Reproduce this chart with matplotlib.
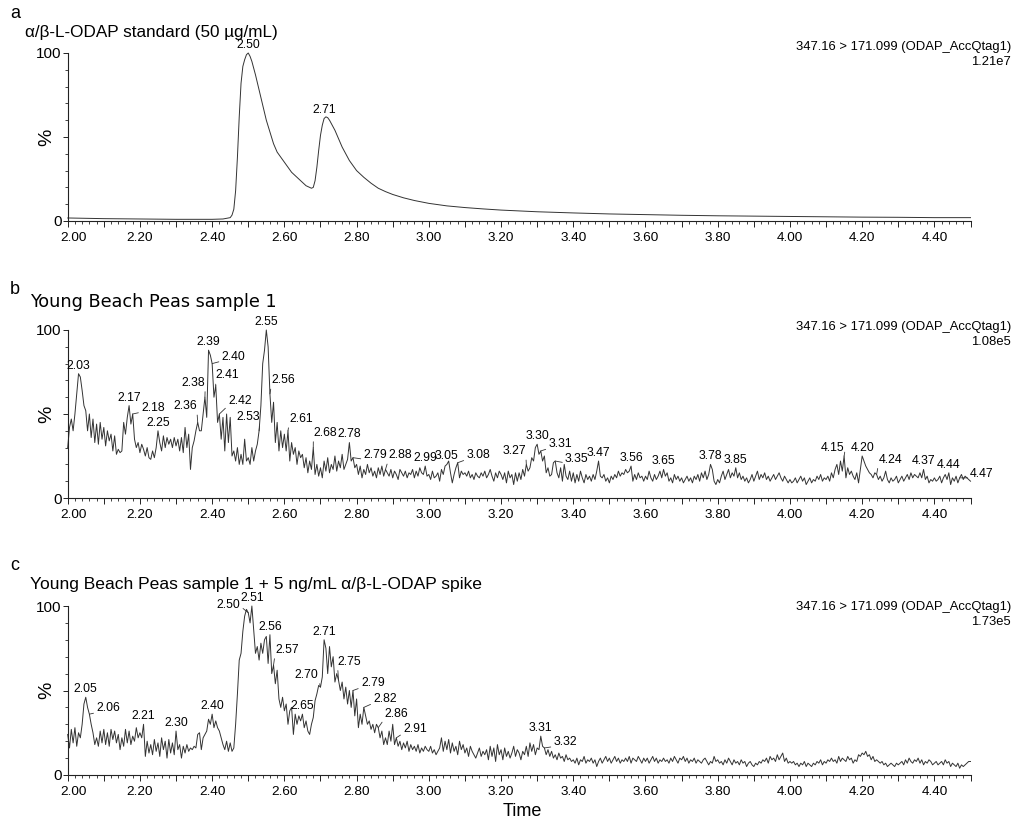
import numpy as np
import matplotlib
matplotlib.use("Agg")
import matplotlib.pyplot as plt
from matplotlib.ticker import FixedLocator, MultipleLocator, FuncFormatter

plt.rcParams['font.family'] = ['Liberation Sans', 'DejaVu Sans']

# ---------------- data ----------------
# panel a: alpha/beta-L-ODAP standard (non-uniform time grid, min)
a_time = [2.00, 2.05, 2.10, 2.15, 2.20, 2.25, 2.30, 2.35, 2.40, 2.43, 2.45, 2.455, 2.46, 2.465,
          2.47, 2.475, 2.48, 2.485, 2.49, 2.495, 2.50, 2.505, 2.51, 2.515, 2.52, 2.53, 2.54,
          2.55, 2.56, 2.57, 2.58, 2.59, 2.60, 2.61, 2.62, 2.63, 2.64, 2.65, 2.66, 2.67, 2.675,
          2.68, 2.685, 2.69, 2.695, 2.70, 2.705, 2.71, 2.715, 2.72, 2.725, 2.73, 2.74, 2.75,
          2.76, 2.77, 2.78, 2.79, 2.80, 2.82, 2.84, 2.86, 2.88, 2.90, 2.93, 2.96, 3.00, 3.05,
          3.10, 3.15, 3.20, 3.30, 3.40, 3.50, 3.60, 3.70, 3.80, 3.90, 4.00, 4.10, 4.20, 4.30,
          4.40, 4.50]
a_pct = [1.8, 1.6, 1.4, 1.3, 1.2, 1.1, 1.0, 1.0, 1.0, 1.2, 2.0, 3.5, 7, 18,
         38, 62, 82, 92, 96, 99, 100, 98, 95, 91, 87, 78, 69,
         60, 53, 46, 41, 38, 35, 32, 29, 27, 25, 23, 21, 20, 19.5,
         20, 24, 32, 42, 51, 57, 61, 62, 61.5, 60, 58, 54, 49,
         44, 40, 36, 33, 30, 26, 22.5, 19.5, 17.5, 15.8, 13.8, 12.2, 10.5, 9.0,
         8.0, 7.2, 6.5, 5.5, 4.8, 4.2, 3.8, 3.4, 3.1, 2.9, 2.7, 2.5, 2.3, 2.2,
         2.0, 2.0]

# panel b: Young Beach Peas sample 1 (every 0.005 min from 2.00 to 4.50)
b_pct = [
    30, 42, 47, 40, 50, 62, 74, 72, 64, 55,
    52, 40, 50, 36, 47, 33, 44, 32, 45, 35,
    42, 31, 40, 34, 38, 28, 37, 26, 29, 27,
    28, 45, 38, 48, 55, 44, 50, 35, 30, 33,
    27, 32, 29, 25, 30, 24, 23, 28, 24, 30,
    40, 33, 28, 37, 30, 36, 32, 35, 30, 36,
    31, 35, 28, 36, 27, 42, 30, 38, 17, 30,
    34, 40, 45, 40, 40, 50, 60, 48, 88, 85,
    80, 60, 67, 45, 50, 35, 48, 28, 50, 33,
    48, 25, 28, 22, 30, 20, 26, 20, 35, 22,
    24, 20, 30, 22, 28, 32, 40, 55, 80, 88,
    100, 90, 62, 45, 57, 33, 45, 28, 40, 30,
    38, 28, 40, 22, 33, 26, 30, 20, 28, 24,
    26, 18, 24, 15, 22, 17, 30, 14, 20, 13,
    18, 12, 22, 16, 24, 15, 20, 17, 25, 16,
    22, 18, 26, 17, 20, 23, 33, 22, 24, 18,
    20, 14, 19, 12, 17, 14, 20, 15, 18, 13,
    16, 12, 18, 14, 19, 13, 17, 15, 13, 17,
    12, 16, 14, 11, 17, 15, 13, 16, 12, 15,
    14, 17, 12, 16, 13, 18, 15, 14, 19, 13,
    14, 11, 16, 12, 13, 15, 10, 17, 14, 19,
    20, 22, 15, 9, 14, 18, 21, 12, 16, 14,
    15, 13, 16, 12, 14, 11, 15, 13, 12, 15,
    13, 16, 12, 14, 17, 13, 10, 15, 12, 16,
    14, 11, 15, 9, 16, 12, 14, 8, 15, 10,
    15, 11, 17, 13, 20, 16, 18, 24, 22, 30,
    32, 26, 28, 22, 25, 15, 18, 13, 14, 21,
    22, 15, 12, 18, 10, 20, 13, 11, 16, 10,
    15, 9, 14, 10, 16, 12, 9, 14, 11, 13,
    10, 14, 11, 16, 22, 13, 12, 14, 10, 12,
    9, 13, 11, 14, 12, 16, 13, 15, 14, 17,
    15, 16, 19, 10, 14, 11, 15, 12, 13, 10,
    13, 11, 16, 12, 10, 14, 11, 13, 16, 12,
    17, 13, 15, 10, 12, 9, 14, 11, 13, 10,
    12, 9, 11, 13, 10, 12, 9, 13, 11, 14,
    10, 15, 12, 16, 11, 14, 20, 17, 10, 8,
    11, 9, 13, 16, 11, 14, 17, 12, 15, 13,
    18, 12, 15, 11, 13, 10, 12, 9, 11, 14,
    10, 13, 16, 11, 14, 12, 15, 11, 13, 10,
    12, 14, 11, 13, 15, 12, 10, 13, 11, 9,
    11, 9, 10, 12, 9, 11, 13, 10, 12, 8,
    10, 12, 9, 11, 10, 13, 11, 14, 10, 12,
    11, 13, 10, 15, 12, 17, 20, 14, 22, 16,
    25, 12, 18, 14, 16, 13, 11, 15, 9, 17,
    25, 22, 19, 17, 15, 14, 12, 15, 14, 11,
    13, 10, 12, 16, 11, 9, 12, 10, 11, 13,
    9, 11, 13, 10, 12, 14, 11, 15, 12, 14,
    13, 12, 15, 12, 17, 11, 13, 9, 11, 10,
    12, 10, 11, 13, 9, 12, 14, 11, 15, 8,
    12, 10, 13, 9, 12, 14, 11, 13, 12, 11,
    10]

# panel c: sample 1 + 5 ng/mL spike (every 0.005 min from 2.00 to 4.50)
c_pct = [
    24, 16, 27, 19, 28, 17, 25, 22, 30, 42,
    46, 40, 36, 30, 25, 18, 22, 17, 26, 19,
    27, 18, 25, 17, 27, 21, 26, 19, 24, 15,
    22, 17, 27, 19, 26, 18, 23, 20, 28, 22,
    25, 22, 30, 11, 20, 13, 18, 12, 21, 14,
    19, 11, 22, 15, 20, 10, 21, 13, 19, 12,
    26, 15, 18, 10, 17, 13, 18, 14, 16, 15,
    17, 16, 24, 25, 15, 22, 24, 26, 33, 30,
    36, 28, 32, 28, 26, 22, 18, 15, 20, 14,
    19, 14, 16, 30, 48, 68, 72, 85, 94, 98,
    96, 90, 100, 86, 72, 76, 68, 78, 72, 80,
    82, 66, 83, 60, 65, 54, 62, 45, 40, 46,
    38, 42, 30, 38, 40, 24, 36, 30, 35, 32,
    36, 28, 32, 26, 24, 30, 34, 44, 48, 53,
    52, 58, 80, 75, 60, 76, 64, 70, 55, 60,
    56, 50, 55, 45, 52, 42, 50, 40, 50, 35,
    45, 28, 36, 30, 40, 35, 30, 32, 27, 30,
    25, 30, 28, 22, 26, 18, 22, 18, 26, 20,
    30, 18, 22, 17, 20, 15, 19, 16, 20, 14,
    18, 15, 17, 14, 18, 13, 16, 14, 17, 15,
    14, 17, 13, 15, 12, 14, 16, 22, 14, 20,
    15, 21, 13, 19, 14, 17, 12, 20, 15, 18,
    13, 16, 11, 17, 14, 12, 10, 13, 16, 11,
    14, 12, 15, 9, 17, 11, 16, 8, 18, 12,
    15, 9, 16, 11, 14, 10, 13, 17, 11, 15,
    13, 9, 14, 12, 17, 11, 19, 14, 18, 12,
    16, 15, 23, 17, 16, 12, 15, 11, 14, 10,
    12, 9, 13, 10, 11, 8, 12, 9, 10, 8,
    9, 7, 10, 6, 9, 8, 11, 7, 9, 8,
    10, 7, 9, 5, 8, 10, 7, 9, 11, 8,
    10, 7, 9, 11, 8, 10, 7, 9, 8, 10,
    8, 11, 7, 10, 9, 8, 11, 9, 7, 10,
    8, 10, 7, 9, 11, 8, 10, 7, 9, 8,
    10, 8, 9, 7, 10, 8, 11, 9, 7, 10,
    9, 11, 8, 10, 7, 9, 8, 10, 7, 9,
    8, 7, 9, 10, 8, 6, 8, 7, 11, 8,
    9, 7, 8, 6, 9, 7, 10, 8, 6, 9,
    7, 8, 6, 9, 7, 8, 5, 7, 8, 6,
    5, 7, 6, 8, 7, 9, 8, 10, 7, 11,
    9, 10, 8, 12, 9, 11, 13, 8, 10, 7,
    8, 7, 8, 6, 7, 5, 7, 6, 8, 5,
    7, 6, 5, 7, 6, 8, 7, 9, 6, 8,
    7, 9, 8, 10, 8, 9, 7, 11, 8, 10,
    9, 8, 11, 9, 10, 7, 9, 8, 12, 11,
    13, 12, 14, 11, 12, 9, 11, 8, 9, 8,
    7, 8, 6, 7, 5, 6, 7, 6, 5, 7,
    6, 7, 8, 6, 9, 7, 10, 8, 7, 9,
    8, 10, 7, 9, 6, 8, 7, 9, 8, 6,
    7, 8, 6, 7, 8, 6, 9, 7, 8, 5,
    7, 6, 5, 7, 4, 6, 5, 6, 7, 8,
    8]

b_time = np.linspace(2.0, 4.5, len(b_pct))
c_time = np.linspace(2.0, 4.5, len(c_pct))

a_peaks = ['2.50', '2.71']
b_peaks = ['2.03', '2.17', '2.18', '2.25', '2.36', '2.38', '2.39', '2.40', '2.41', '2.42',
           '2.53', '2.55', '2.56', '2.61', '2.68', '2.78', '2.79', '2.88', '2.99', '3.05',
           '3.08', '3.27', '3.30', '3.31', '3.35', '3.47', '3.56', '3.65', '3.78', '3.85',
           '4.15', '4.20', '4.24', '4.37', '4.44', '4.47']
c_peaks = ['2.05', '2.06', '2.21', '2.30', '2.40', '2.50', '2.51', '2.56', '2.57', '2.65',
           '2.70', '2.71', '2.75', '2.79', '2.82', '2.86', '2.91', '3.31', '3.32']

titles = ['α/β-L-ODAP standard (50 µg/mL)',
          'Young Beach Peas sample 1',
          'Young Beach Peas sample 1 + 5 ng/mL α/β-L-ODAP spike']
panel_letters = ['a', 'b', 'c']
channel = '347.16 > 171.099 (ODAP_AccQtag1)'
intensities = ['1.21e7', '1.08e5', '1.73e5']

# ---------------- layout (label placement for displaced peak labels) ----------------
b_label_pos = {'2.18': (2.236, 53.6), '2.36': (2.325, 54.6), '2.38': (2.348, 68.5),
               '2.40': (2.459, 84.0), '2.41': (2.442, 73.0), '2.42': (2.477, 57.5),
               '2.53': (2.500, 48.0), '2.56': (2.597, 70.0), '2.61': (2.646, 47.0),
               '2.68': (2.713, 38.7), '2.79': (2.852, 25.6), '2.88': (2.921, 25.4),
               '3.08': (3.137, 25.4), '3.27': (3.236, 27.8), '3.31': (3.364, 32.0),
               '3.35': (3.410, 23.4), '4.15': (4.119, 29.8), '4.24': (4.278, 22.8),
               '4.47': (4.532, 14.5)}
c_label_pos = {'2.06': (2.112, 39.4), '2.50': (2.445, 100.6), '2.57': (2.607, 74.0),
               '2.70': (2.662, 59.2), '2.75': (2.780, 67.0), '2.79': (2.845, 54.2),
               '2.82': (2.879, 45.0), '2.86': (2.911, 36.1), '2.91': (2.962, 27.2),
               '3.32': (3.378, 19.3)}

W, H = 1020, 823
fig = plt.figure(figsize=(W / 100, H / 100), dpi=100)
LINE = '#333333'
AXC = '#222222'
TICK_FS = 9.7
PEAK_FS = 8.8

panels = [
    (a_time, a_pct, a_peaks, {}, 221, 53),
    (b_time, b_pct, b_peaks, b_label_pos, 498, 330),
    (c_time, c_pct, c_peaks, c_label_pos, 775, 606),
]
x_left, x_right = 67.7, 970.5


def peak_value(t, y, lab):
    tt = float(lab)
    t = np.asarray(t)
    y = np.asarray(y, dtype=float)
    m = (t >= tt - 0.004) & (t <= tt + 0.004)
    if m.any():
        return y[m].max()
    return float(np.interp(tt, t, y))


for i, (t, y, peaks, lpos, y0px, y100px) in enumerate(panels):
    ax = fig.add_axes([x_left / W, 1 - y0px / H, (x_right - x_left) / W, (y0px - y100px) / H])
    ax.plot(t, y, color=LINE, lw=0.7, clip_on=False)
    ax.set_xlim(2.0, 4.5)
    ax.set_ylim(0, 100)
    for s in ['top', 'right']:
        ax.spines[s].set_visible(False)
    for s in ['left', 'bottom']:
        ax.spines[s].set_linewidth(0.8)
        ax.spines[s].set_color(AXC)

    ax.xaxis.set_major_locator(FixedLocator(np.round(np.arange(2.0, 4.501, 0.1), 2)))
    ax.xaxis.set_minor_locator(MultipleLocator(0.02))
    ax.xaxis.set_major_formatter(FuncFormatter(
        lambda v, p: ('%.2f' % v) if (round(v * 10) % 2 == 0 and v < 4.45 and v > 2.05) else ''))
    ax.yaxis.set_major_locator(FixedLocator([0, 50, 100]))
    ax.yaxis.set_minor_locator(MultipleLocator(10))
    ax.yaxis.set_major_formatter(FuncFormatter(lambda v, p: {0: '0', 100: '100'}.get(int(round(v)), '')))
    ax.tick_params(axis='x', which='major', length=4, width=0.7, labelsize=TICK_FS, pad=4, color=AXC)
    ax.tick_params(axis='x', which='minor', length=2.5, width=0.6, color=AXC)
    ax.tick_params(axis='y', which='major', length=3.5, width=0.7, labelsize=11, pad=1, color=AXC)
    ax.tick_params(axis='y', which='minor', length=2.2, width=0.6, color=AXC)
    ax.annotate('2.00', xy=(2.0, 0), xycoords=('data', 'axes fraction'), xytext=(4.5, -8),
                textcoords='offset points', ha='center', va='top', fontsize=TICK_FS)

    ax.text((47 - x_left) / (x_right - x_left), 0.5, '%', transform=ax.transAxes,
            rotation=90, ha='center', va='center', fontsize=14)

    # peak labels
    for lab in peaks:
        pv = peak_value(t, y, lab)
        pt = float(lab)
        if lab in lpos:
            tx, ty = lpos[lab]
            rp = (0.0, 0.15) if tx > pt else (1.0, 0.15)
            if lab == '2.50' and i == 2:
                rp = (1.0, 0.4)
            ax.annotate(lab, xy=(pt, pv), xytext=(tx, ty), textcoords='data',
                        ha='center', va='center', fontsize=PEAK_FS, annotation_clip=False,
                        arrowprops=dict(arrowstyle='-', color=LINE, lw=0.6,
                                        shrinkA=0, shrinkB=0, relpos=rp))
        else:
            ax.annotate(lab, xy=(pt, pv), xytext=(0, 1.5), textcoords='offset points',
                        ha='center', va='bottom', fontsize=PEAK_FS, annotation_clip=False)

    # right-hand channel info
    top_line = [46.7, 326.7, 606.7][i]
    fig.text(1011 / W, 1 - top_line / H, channel, ha='right', va='center', fontsize=9.4)
    fig.text(1011 / W, 1 - (top_line + 15) / H, intensities[i], ha='right', va='center', fontsize=9.4)

# titles and panel letters
fig.text(25 / W, 1 - 32 / H, titles[0], ha='left', va='center', fontsize=12.3)
fig.text(30 / W, 1 - 301.7 / H, titles[1], ha='left', va='center', fontsize=12.7,
         family=['DejaVu Sans'])
fig.text(30 / W, 1 - 585 / H, titles[2], ha='left', va='center', fontsize=12.6)
for letter, yp in zip(panel_letters, [13.3, 290, 565]):
    fig.text(10 / W, 1 - yp / H, letter, ha='left', va='center', fontsize=13)

fig.text(522 / W, 1 - 811 / H, 'Time', ha='center', va='center', fontsize=13)

fig.savefig('out.png', dpi=100)
